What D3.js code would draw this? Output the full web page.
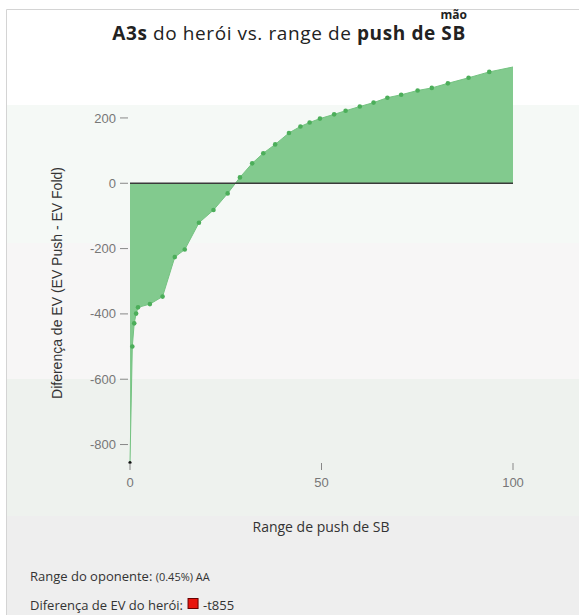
<!DOCTYPE html>
<html>
<head>
<meta charset="utf-8">
<script src="https://cdn.jsdelivr.net/npm/d3@7"></script>
<style>
  html, body { margin: 0; padding: 0; background: #fff; }
  svg { display: block; }
</style>
</head>
<body>
<div id="chart"></div>
<script>
// SB push range (%) and hero EV difference (EV Push - EV Fold)
const pushRange = [0, 0.6, 1.1, 1.6, 2.1, 5.2, 8.5, 11.7, 14.3, 18, 21.8, 25.5, 28.7, 31.9, 34.8, 37.9, 41.5, 44.5, 46.9, 49.6, 53.3, 56.3, 60, 63.6, 67.2, 70.8, 75.1, 78.8, 83, 88.4, 93.8, 100]
const evDiff = [-855, -500, -429, -399, -380, -370, -347, -226, -203, -121, -82, -31, 18, 61, 92, 119, 154, 174, 186, 198, 211, 222, 235, 247, 262, 271, 284, 292, 306, 323, 341, 356]
const yTicks = [-800, -600, -400, -200, 0, 200]
const xTicks = [0, 50, 100]
const bandColors = ['#f5f9f6', '#f7f6f6', '#eef2ee', '#eeeeee']

const width = 579
const height = 615
const font = '"Open Sans", sans-serif'
const data = pushRange.map((x, i) => ({ x, y: evDiff[i] }))

const svg = d3.select('#chart')
  .append('svg')
  .attr('width', width)
  .attr('height', height)

const x = d3.scaleLinear().domain([0, 100]).range([130, 513])
const y = d3.scaleLinear().domain(d3.extent(evDiff)).range([462.5, 67])

// background bands
const bandEdges = [105, 243, 379, 516, height]
svg.selectAll('rect.band')
  .data(bandColors)
  .enter()
  .append('rect')
  .attr('class', 'band')
  .attr('x', 7)
  .attr('y', (d, i) => bandEdges[i])
  .attr('width', width - 7)
  .attr('height', (d, i) => bandEdges[i + 1] - bandEdges[i])
  .attr('fill', d => d)

// panel border
svg.append('path')
  .attr('d', `M6.5,${height} V9.5 H${width}`)
  .attr('fill', 'none')
  .attr('stroke', '#d4d4d4')

// title
const title = svg.append('text')
  .attr('x', 289)
  .attr('y', 40)
  .attr('text-anchor', 'middle')
  .attr('font-family', font)
  .attr('font-size', '19px')
  .attr('letter-spacing', '0.6px')
  .attr('fill', '#222')
title.append('tspan').attr('font-weight', 700).text('A3s')
title.append('tspan').text(' do herói vs. range de ')
title.append('tspan').attr('font-weight', 700).text('push de SB')
const titleBox = title.node().getBBox()

svg.append('text')
  .attr('x', titleBox.x + titleBox.width - 12)
  .attr('y', 19)
  .attr('text-anchor', 'middle')
  .attr('font-family', font)
  .attr('font-weight', 700)
  .attr('font-size', '12px')
  .attr('fill', '#222')
  .text('mão')

// area
const area = d3.area()
  .x(d => x(d.x))
  .y0(y(0))
  .y1(d => y(d.y))

svg.append('path')
  .datum(data)
  .attr('d', area)
  .attr('fill', '#82ca8e')

svg.append('path')
  .datum(data)
  .attr('d', d3.line().x(d => x(d.x)).y(d => y(d.y)))
  .attr('fill', 'none')
  .attr('stroke', '#74c381')
  .attr('stroke-width', 1)

// zero line
svg.append('line')
  .attr('x1', x(0))
  .attr('x2', x(100))
  .attr('y1', y(0))
  .attr('y2', y(0))
  .attr('stroke', '#3a3a3a')
  .attr('stroke-width', 1.5)

// dots
svg.selectAll('circle.dot')
  .data(data.filter(d => d.x > 0 && d.x < 100))
  .enter()
  .append('circle')
  .attr('class', 'dot')
  .attr('cx', d => x(d.x))
  .attr('cy', d => y(d.y))
  .attr('r', 2.3)
  .attr('fill', '#4cae5a')

// hero marker
svg.append('circle')
  .attr('cx', x(data[0].x))
  .attr('cy', y(data[0].y))
  .attr('r', 1.6)
  .attr('fill', '#111')

// y axis ticks
const yTick = svg.selectAll('g.ytick')
  .data(yTicks)
  .enter()
  .append('g')
  .attr('class', 'ytick')
  .attr('transform', d => `translate(0, ${y(d)})`)
yTick.append('line')
  .attr('x1', 120)
  .attr('x2', 128)
  .attr('stroke', '#888')
yTick.append('text')
  .attr('x', 116)
  .attr('dy', '0.35em')
  .attr('text-anchor', 'end')
  .attr('font-family', 'Liberation Sans, Arial, sans-serif')
  .attr('font-size', '13px')
  .attr('fill', '#777')
  .text(d => d)

// x axis ticks
const xTick = svg.selectAll('g.xtick')
  .data(xTicks)
  .enter()
  .append('g')
  .attr('class', 'xtick')
  .attr('transform', d => `translate(${x(d)}, 0)`)
xTick.append('line')
  .attr('y1', 463)
  .attr('y2', 470)
  .attr('stroke', '#888')
xTick.append('text')
  .attr('y', 487)
  .attr('text-anchor', 'middle')
  .attr('font-family', 'Liberation Sans, Arial, sans-serif')
  .attr('font-size', '13px')
  .attr('fill', '#777')
  .text(d => d)

// axis labels
svg.append('text')
  .attr('transform', `translate(62, ${283}) rotate(-90)`)
  .attr('text-anchor', 'middle')
  .attr('font-family', 'Liberation Sans, Arial, sans-serif')
  .attr('font-size', '14px')
  .attr('fill', '#333')
  .text('Diferença de EV (EV Push - EV Fold)')

svg.append('text')
  .attr('x', 321)
  .attr('y', 532)
  .attr('text-anchor', 'middle')
  .attr('font-family', font)
  .attr('font-size', '14px')
  .attr('fill', '#333')
  .text('Range de push de SB')

// footer info
const info1 = svg.append('text')
  .attr('x', 30)
  .attr('y', 581)
  .attr('font-family', font)
  .attr('font-size', '13px')
  .attr('fill', '#333')
info1.append('tspan').text('Range do oponente: ')
info1.append('tspan').attr('font-size', '11px').text('(0.45%) AA')

const info2 = svg.append('text')
  .attr('x', 30)
  .attr('y', 610)
  .attr('font-family', font)
  .attr('font-size', '13px')
  .attr('fill', '#333')
  .text('Diferença de EV do herói:')
const info2Width = info2.node().getComputedTextLength()

svg.append('rect')
  .attr('x', 30 + info2Width + 5)
  .attr('y', 598.5)
  .attr('width', 10)
  .attr('height', 10)
  .attr('fill', '#e8140c')
  .attr('stroke', '#600')
  .attr('stroke-width', 1)

svg.append('text')
  .attr('x', 30 + info2Width + 20)
  .attr('y', 610)
  .attr('font-family', font)
  .attr('font-size', '13px')
  .attr('fill', '#333')
  .text('-t855')
</script>
</body>
</html>
